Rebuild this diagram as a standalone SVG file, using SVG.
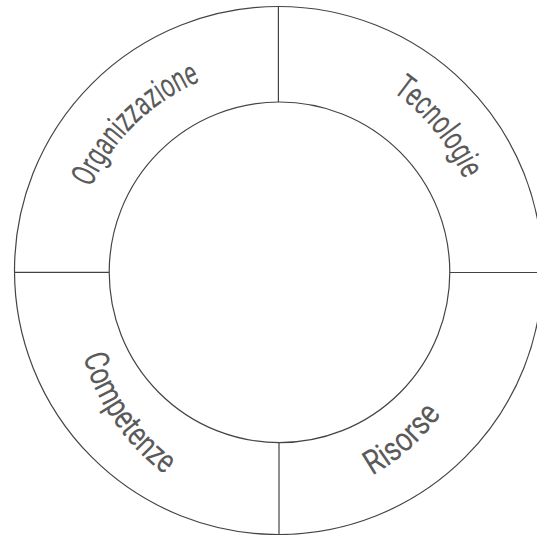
<svg xmlns="http://www.w3.org/2000/svg" xmlns:xlink="http://www.w3.org/1999/xlink" width="537" height="535" viewBox="0 0 537 535">
<style>
.ring{fill:none;stroke:#444;stroke-width:1.2}
.div{stroke:#444;stroke-width:1.2}
.lbl{font-family:Roboto,"Liberation Sans",sans-serif;font-size:34px;font-weight:400;fill:#5a5a5a}
</style>
<defs>
<path id="pOrg" d="M73.02,269.42 A206.5,206.5 0 0 1 282.38,65.82"/>
<path id="pTec" d="M292.44,54.56 A210,210 0 0 1 480.34,284.54"/>
<path id="pCom" d="M78.14,254.66 A224,224 0 0 0 258.26,515.26"/>
<path id="pRis" d="M250.95,503.81 A220,220 0 0 0 483.61,297.25"/>
</defs>
<rect width="537" height="535" fill="#fff"/>
<g id="rings">
<circle class="ring" cx="278.5" cy="270.5" r="264"/>
<circle class="ring" cx="279.5" cy="272.3" r="170.3"/>
</g>
<g id="connectors">
<line class="div" x1="278.4" y1="6.5" x2="278.4" y2="102"/>
<line class="div" x1="14.5" y1="272.3" x2="109.3" y2="272.3"/>
<line class="div" x1="449.8" y1="272.5" x2="537" y2="272.5"/>
<line class="div" x1="279" y1="442.6" x2="279" y2="535"/>
</g>
<g id="organizzazione"><text class="lbl"><textPath xlink:href="#pOrg" href="#pOrg" startOffset="50%" text-anchor="middle" textLength="156" lengthAdjust="spacingAndGlyphs">Organizzazione</textPath></text></g>
<g id="tecnologie"><text class="lbl"><textPath xlink:href="#pTec" href="#pTec" startOffset="50%" text-anchor="middle" textLength="114" lengthAdjust="spacingAndGlyphs">Tecnologie</textPath></text></g>
<g id="competenze"><text class="lbl"><textPath xlink:href="#pCom" href="#pCom" startOffset="50%" text-anchor="middle" textLength="146" lengthAdjust="spacingAndGlyphs">Competenze</textPath></text></g>
<g id="risorse"><text class="lbl"><textPath xlink:href="#pRis" href="#pRis" startOffset="50%" text-anchor="middle" textLength="93" lengthAdjust="spacingAndGlyphs">Risorse</textPath></text></g>
</svg>
